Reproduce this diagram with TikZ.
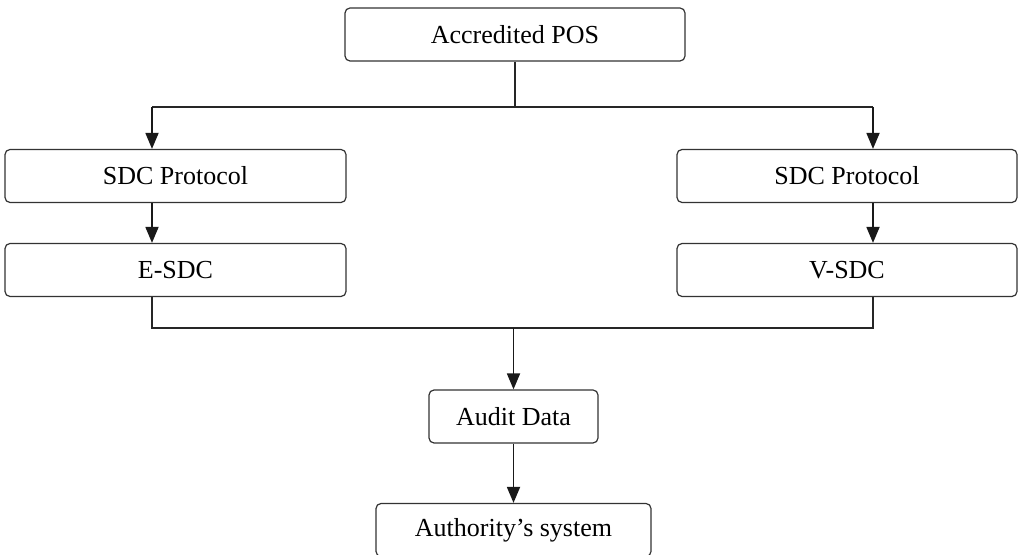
\documentclass[tikz,border=0pt]{standalone}
\usepackage{fontspec}
\setmainfont{Liberation Serif}
\usepackage{tikz}
\usetikzlibrary{arrows.meta}

\begin{document}
\begin{tikzpicture}[x=0.5pt,y=-0.5pt,>={Triangle[length=8pt,width=6.5pt]},line width=0.55pt,
  nodes={rectangle,rounded corners=2.5pt,draw=black!80,line width=0.6pt,font=\fontsize{13}{15}\selectfont,minimum height=26.5pt},
  arr/.style={black!90,line width=0.9pt,->}]
 \useasboundingbox (0,0) rectangle (1018,555);
 \node[minimum width=170pt] (pos) at (515,34.5) {Accredited POS};
 \node[minimum width=170.5pt] (sdcl) at (175.5,176) {SDC Protocol};
 \node[minimum width=170pt] (sdcr) at (847,176) {SDC Protocol};
 \node[minimum width=170.5pt] (esdc) at (175.5,270) {E-SDC};
 \node[minimum width=170pt] (vsdc) at (847,270) {V-SDC};
 \node[minimum width=84.5pt] (audit) at (513.5,416.5) {Audit Data};
 \node[minimum width=137.5pt] (auth) at (513.5,530) {Authority’s system};

 \coordinate (splitl) at (152,107);
 \coordinate (splitr) at (873,107);
 \coordinate (joinl) at (152,328);
 \coordinate (joinr) at (873,328);

 \draw[black!85] (pos.south) -- (pos.south |- splitl);
 \draw[black!85] (splitl) -- (splitr);
 \draw[arr] (splitl) -- (splitl |- sdcl.north);
 \draw[arr] (splitr) -- (splitr |- sdcr.north);
 \draw[arr] (sdcl.south -| splitl) -- (esdc.north -| splitl);
 \draw[arr] (sdcr.south -| splitr) -- (vsdc.north -| splitr);
 \draw[black!85] (esdc.south -| joinl) -- (joinl) -- (joinr) -- (vsdc.south -| joinr);
 \draw[arr] (joinl -| audit.north) -- (audit.north);
 \draw[arr] (audit.south) -- (auth.north);
\end{tikzpicture}
\end{document}
